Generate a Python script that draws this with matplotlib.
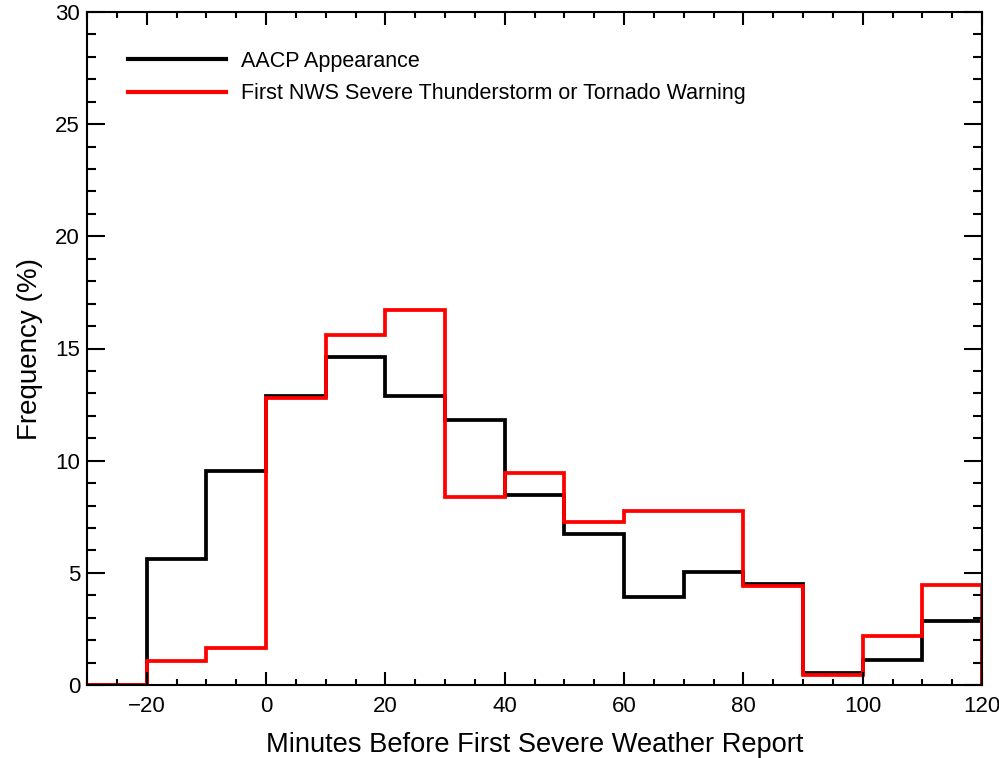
import matplotlib
matplotlib.use("Agg")
import matplotlib.pyplot as plt
import numpy as np

plt.rcParams['font.family'] = ['Liberation Sans', 'DejaVu Sans']

bin_edges = [-30, -20, -10, 0, 10, 20, 30, 40, 50, 60, 70, 80, 90, 100, 110, 120]
aacp_freq = [0.0, 5.6, 9.55, 12.9, 14.6, 12.9, 11.8, 8.45, 6.75, 3.92, 5.05, 4.5, 0.55, 1.1, 2.85]
nws_freq = [0.0, 1.05, 1.65, 12.8, 15.6, 16.7, 8.38, 9.47, 7.25, 7.76, 7.76, 4.42, 0.45, 2.2, 4.45]

x_ticks = [-20, 0, 20, 40, 60, 80, 100, 120]
y_ticks = [0, 5, 10, 15, 20, 25, 30]

fig = plt.figure(figsize=(9.99, 7.58), dpi=100)
ax = fig.add_axes([87/999, 1-685/758, (982-87)/999, (685-12)/758])

ax.stairs(aacp_freq, bin_edges, color='black', linewidth=2.7, label='AACP Appearance', baseline=0)
ax.stairs(nws_freq, bin_edges, color='#ff0000', linewidth=2.7,
          label='First NWS Severe Thunderstorm or Tornado Warning', baseline=0)

ax.set_xlim(-30, 120)
ax.set_ylim(0, 30)
ax.set_xticks(x_ticks)
ax.set_yticks(y_ticks)
ax.set_xticks(np.arange(-30, 121, 5), minor=True)
ax.set_yticks(np.arange(0, 31, 1), minor=True)

ax.tick_params(axis='both', which='both', direction='in', top=True, right=True, width=1.5, labelsize=16)
ax.tick_params(axis='x', which='major', length=9.5, pad=8)
ax.tick_params(axis='x', which='minor', length=4.5)
ax.tick_params(axis='y', which='major', length=13, pad=5)
ax.tick_params(axis='y', which='minor', length=6.5)
for s in ax.spines.values():
    s.set_linewidth(1.5)

ax.set_xlabel('Minutes Before First Severe Weather Report', fontsize=19.6, labelpad=11)
ax.set_ylabel('Frequency (%)', fontsize=20, labelpad=9)

leg = ax.legend(loc='upper left', bbox_to_anchor=(0.0358, 0.955), frameon=False, fontsize=15.5,
                handlelength=4.55, handletextpad=0.7, labelspacing=0.53, borderaxespad=0)
for line in leg.get_lines():
    line.set_linewidth(3)

fig.savefig('out.png', dpi=100)
